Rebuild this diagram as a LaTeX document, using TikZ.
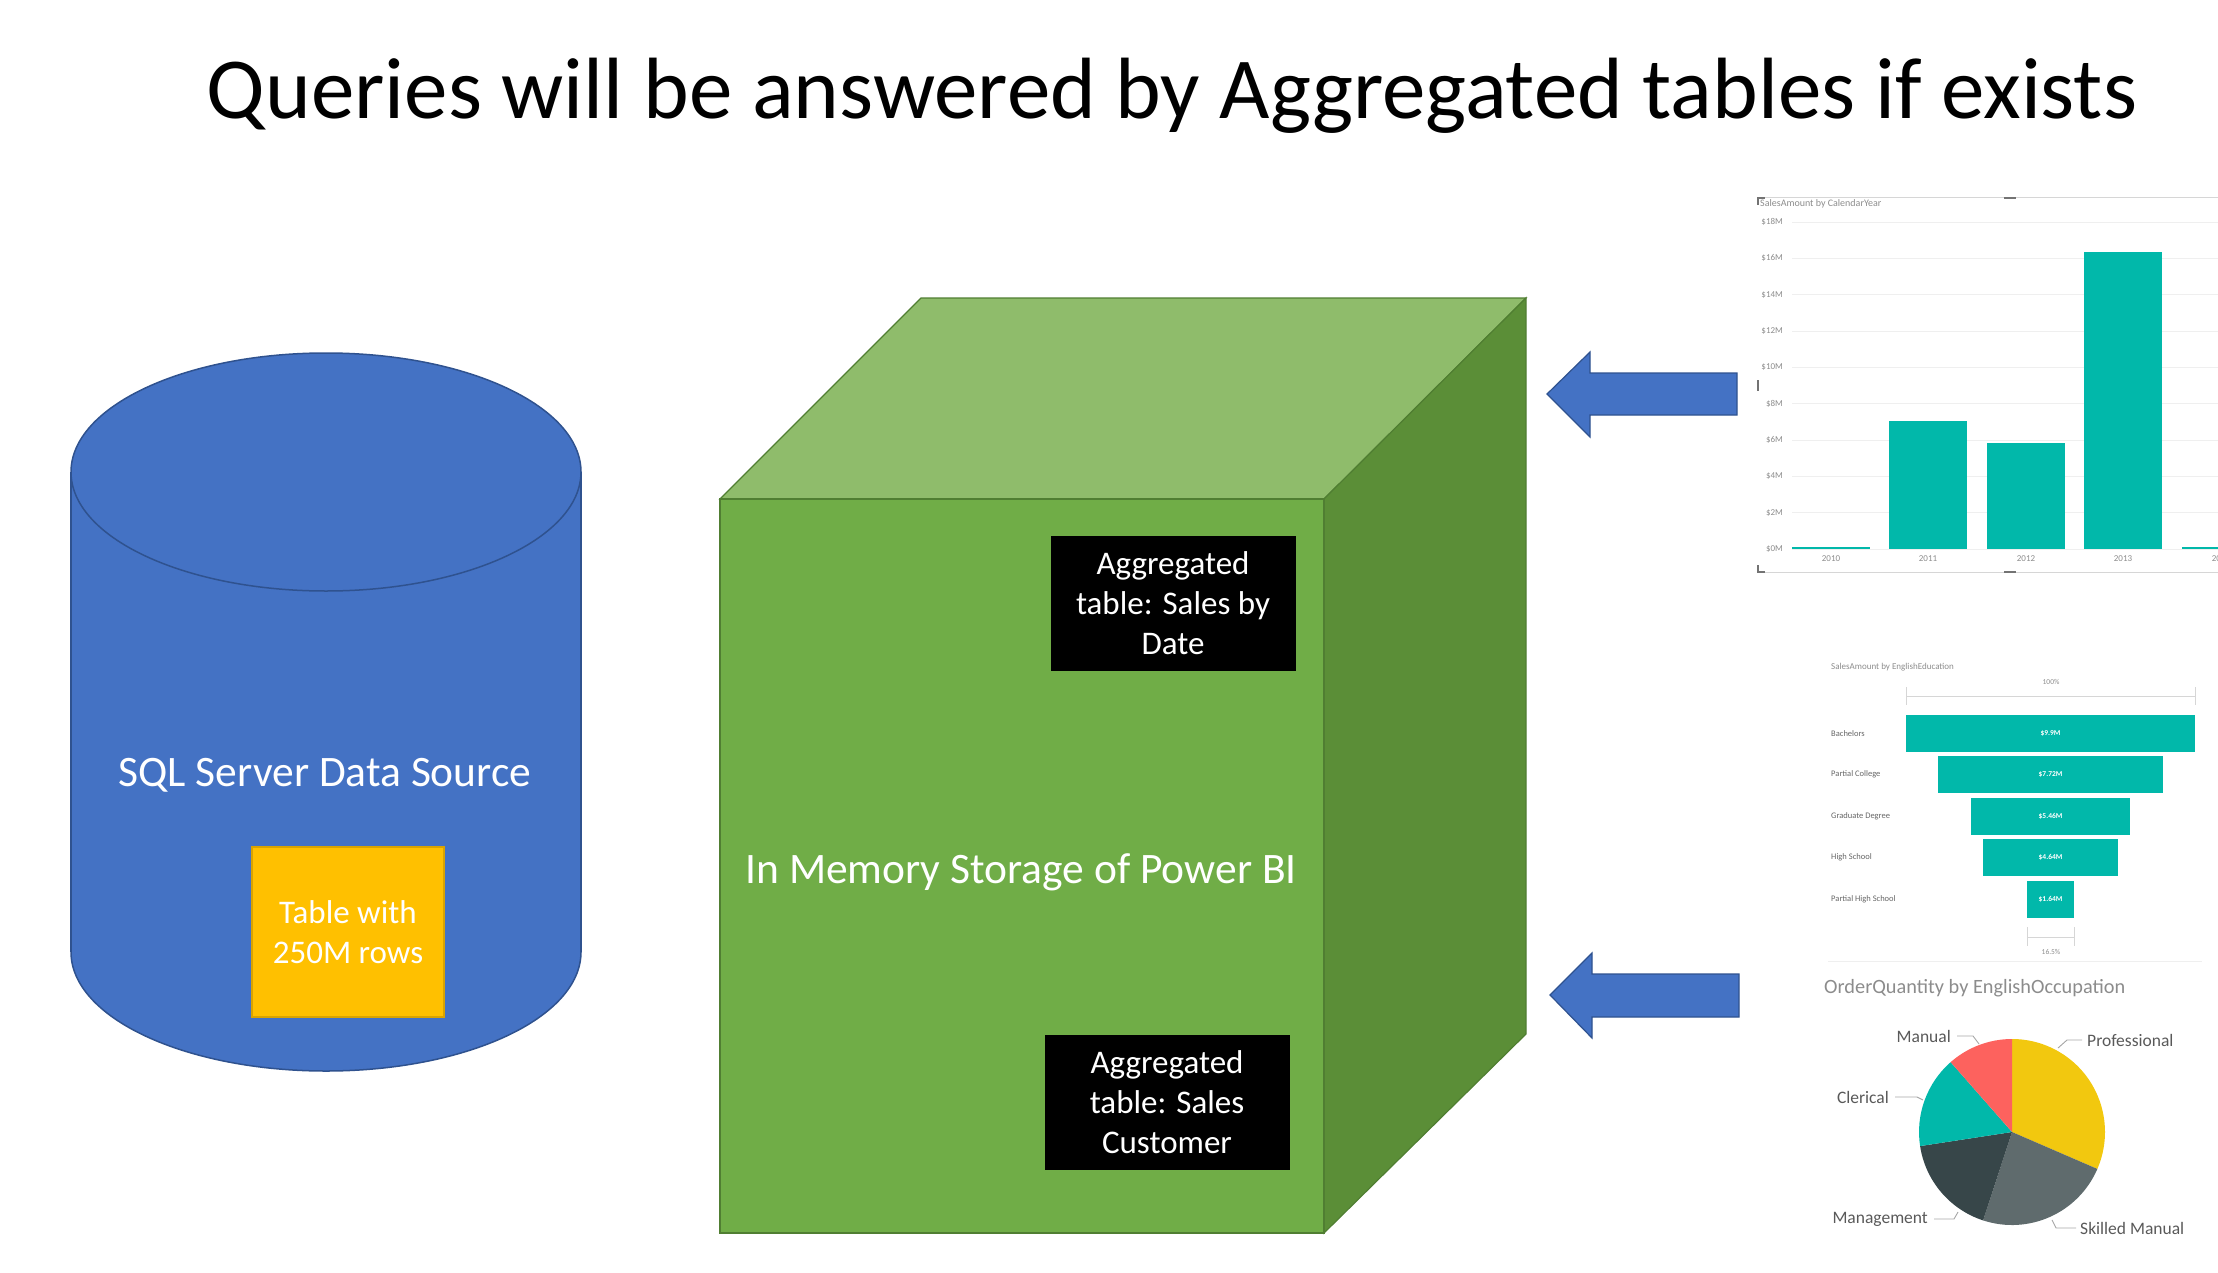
\documentclass[tikz,border=0pt]{standalone}
\usepackage{fontspec}
\setmainfont{Carlito}
\usetikzlibrary{positioning}
\definecolor{sqlblue}{HTML}{4472C4}
\definecolor{sqlblueline}{HTML}{2F528F}
\definecolor{tblorange}{HTML}{FFC000}
\definecolor{tblorangeline}{HTML}{D9A300}
\definecolor{cubefront}{HTML}{70AD47}
\definecolor{cubetop}{HTML}{8FBC6B}
\definecolor{cubeside}{HTML}{5B8E37}
\definecolor{cubeline}{HTML}{507E32}
\definecolor{pbiteal}{HTML}{01B8AA}
\definecolor{pbiyellow}{HTML}{F2C80F}
\definecolor{pbired}{HTML}{FD625E}
\definecolor{pbigray}{HTML}{5F6B6D}
\definecolor{pbidark}{HTML}{374649}
\definecolor{axisgray}{HTML}{8C8C8C}
\definecolor{gridgray}{HTML}{EFEFEF}
\definecolor{framegray}{HTML}{D6D6D6}
\begin{document}
\begin{tikzpicture}[x=1pt, y=-1pt,
	slidetext/.style={text=white, align=center, font=\fontsize{43.5}{52}\selectfont},
	aggbox/.style={fill=black, text=white, align=center, inner sep=0pt,
		minimum width=245pt, minimum height=135pt, font=\fontsize{33}{40}\selectfont},
	blockarrow/.style={fill=sqlblue, draw=sqlblueline, line width=1.2pt},
	axislbl/.style={text=axisgray, inner sep=0pt, font=\fontsize{9}{10}\selectfont},
	catlbl/.style={text=black!60, inner sep=0pt, anchor=west, font=\fontsize{8.5}{9}\selectfont},
	brack/.style={draw=framegray, line width=1pt},
	leader/.style={draw=black!35, line width=0.9pt},
	pielbl/.style={text=black!65, inner sep=0pt, font=\fontsize{17.5}{20}\selectfont}]
	\useasboundingbox (0,0) rectangle (2218,1273);
	\clip (0,0) rectangle (2218,1273);

	% title
	\node[anchor=base, font=\fontsize{87}{100}\selectfont] (title) at (1172,119)
		{Queries will be answered by Aggregated tables if exists};

	% SQL Server cylinder
	\filldraw[fill=sqlblue, draw=sqlblueline, line width=1.5pt] (326,952) ellipse [x radius=255, y radius=119];
	\fill[sqlblue] (71,472) rectangle (581,952);
	\draw[sqlblueline, line width=1.5pt] (71,472) -- (71,952) (581,472) -- (581,952);
	\filldraw[fill=sqlblue, draw=sqlblueline, line width=1.5pt] (326,472) ellipse [x radius=255, y radius=119];
	\node[slidetext, anchor=base] (sqltxt) at (325,786) {SQL Server Data Source};
	\node[fill=tblorange, draw=tblorangeline, line width=1.2pt, minimum width=192pt, minimum height=170pt,
		inner sep=0pt, text=white, align=center, font=\fontsize{33}{40}\selectfont] (tbl) at (348,932)
		{Table with\\250M rows};

	% Power BI in-memory cube
	\filldraw[fill=cubetop, draw=cubeline, line width=1.2pt] (720,499) -- (921,298) -- (1526,298) -- (1324,499) -- cycle;
	\filldraw[fill=cubeside, draw=cubeline, line width=1.2pt] (1324,499) -- (1526,298) -- (1526,1034) -- (1324,1233) -- cycle;
	\filldraw[fill=cubefront, draw=cubeline, line width=1.2pt] (720,499) rectangle (1324,1233);
	\node[slidetext, anchor=base] (memtxt) at (1021,883) {In Memory Storage of Power BI};
	\node[aggbox] (aggdate) at (1173,603) {Aggregated\\table: Sales by\\Date};
	\node[aggbox] (aggcust) at (1167,1102) {Aggregated\\table: Sales\\Customer};

	% block arrows from the reports
	\filldraw[blockarrow] (1547,394) -- (1590,352) -- (1590,373) -- (1737,373) -- (1737,415)
		-- (1590,415) -- (1590,437) -- cycle;
	\filldraw[blockarrow] (1550,995) -- (1592,953) -- (1592,974) -- (1739,974) -- (1739,1017)
		-- (1592,1017) -- (1592,1038) -- cycle;

	% bar chart: SalesAmount by CalendarYear
	\draw[framegray, line width=1pt] (1758,198) -- (2218,198) (1758,572) -- (2218,572);
	\draw[black!55, line width=1.2pt] (1758,205) -- (1758,198) -- (1765,198) (1758,565) -- (1758,572) -- (1765,572)
		(1758,380) -- (1758,391) (2004,198) -- (2016,198) (2004,572) -- (2016,572);
	\node[axislbl, anchor=west, font=\fontsize{10}{12}\selectfont] (bartitle) at (1760,204) {SalesAmount by CalendarYear};
	\foreach \k in {0,...,9} {
		\pgfmathsetmacro{\gy}{549-36.33*\k}
		\pgfmathtruncatemacro{\mv}{2*\k}
		\draw[gridgray, line width=0.8pt] (1792,\gy) -- (2218,\gy);
		\node[axislbl, anchor=east] (ytick\k) at (1783,\gy) {\$\mv M};
	}
	\foreach \l/\t/\yr in {1792/547/2010, 1889/421/2011, 1987/443/2012, 2084/252/2013, 2182/547/2014} {
		\fill[pbiteal] (\l,\t) rectangle (\l+78,549);
		\node[axislbl] (yr\yr) at (\l+39,559) {\yr};
	}

	% funnel: SalesAmount by EnglishEducation
	\node[axislbl, anchor=west] (funtitle) at (1831,667) {SalesAmount by EnglishEducation};
	\node[axislbl, font=\fontsize{7.5}{8}\selectfont] (toppct) at (2051,682) {100\%};
	\draw[brack] (1906,687) -- (1906,705) (1906,696) -- (2195,696) (2195,687) -- (2195,705);
	\foreach \l/\r/\t/\i/\cat/\val in {1906/2195/715/1/Bachelors/\$9.9M, 1938/2163/756/2/Partial College/\$7.72M,
		1971/2130/798/3/Graduate Degree/\$5.46M, 1983/2118/839/4/High School/\$4.64M,
		2027/2074/881/5/Partial High School/\$1.64M} {
		\fill[pbiteal] (\l,\t) rectangle (\r,\t+37);
		\node[text=white, inner sep=0pt, font=\fontsize{7.5}{8}\selectfont\bfseries] (fv\i) at ({(\l+\r)/2},\t+18.5) {\val};
		\node[catlbl] (fc\i) at (1831,\t+18.5) {\cat};
	}
	\draw[brack] (2027,927) -- (2027,946) (2027,937) -- (2074,937) (2074,927) -- (2074,946);
	\node[axislbl, font=\fontsize{7.5}{8}\selectfont] (lowpct) at (2051,952) {16.5\%};
	\draw[gridgray, line width=1pt] (1828,961) -- (2202,961);

	% pie: OrderQuantity by EnglishOccupation
	\node[axislbl, anchor=west, font=\fontsize{20.3}{24}\selectfont] (pietitle) at (1824,988) {OrderQuantity by EnglishOccupation};
	\coordinate (pc) at (2012,1132);
	\foreach \a/\b/\c in {-90/23.4/pbiyellow, 23.4/108.1/pbigray, 108.1/171.3/pbidark,
		171.3/228.7/pbiteal, 228.7/270/pbired}
		\fill[\c] (pc) -- ++(\a:93) arc[start angle=\a, end angle=\b, radius=93] -- cycle;
	\node[pielbl, anchor=west] (prof) at (2087,1040) {Professional};
	\node[pielbl, anchor=west] (skill) at (2080,1228) {Skilled Manual};
	\node[pielbl, anchor=east] (mgmt) at (1928,1219) {Management};
	\node[pielbl, anchor=east] (cler) at (1889,1097) {Clerical};
	\node[pielbl, anchor=east] (manu) at (1951,1036) {Manual};
	\draw[leader] (prof.west) ++(-5,0) -- ++(-15,0) -- ++(-9,8);
	\draw[leader] (skill.west) ++(-4,0) -- ++(-20,0) -- ++(-4,-8);
	\draw[leader] (mgmt.east) ++(6,0) -- ++(20,0) -- ++(4,-7);
	\draw[leader] (cler.east) ++(6,0) -- ++(22,0) -- ++(6,3);
	\draw[leader] (manu.east) ++(6,0) -- ++(16,0) -- ++(6,8);
\end{tikzpicture}
\end{document}
